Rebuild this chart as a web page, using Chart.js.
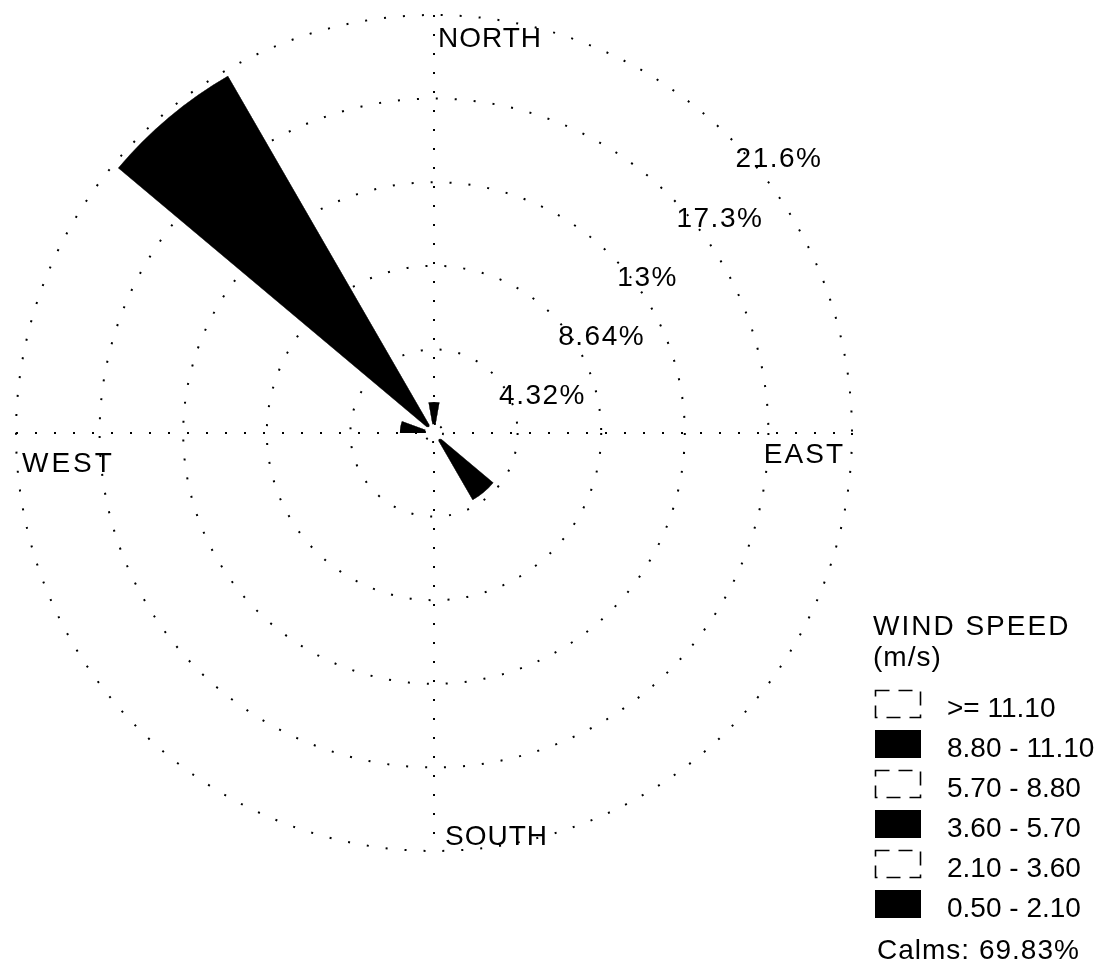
<!DOCTYPE html>
<html>
<head>
<meta charset="utf-8">
<title>Wind Rose</title>
<script src="https://cdn.jsdelivr.net/npm/chart.js@4.4.1/dist/chart.umd.min.js"></script>
<style>
  html, body { margin: 0; padding: 0; background: #ffffff; }
  canvas { display: block; }
</style>
</head>
<body>
<canvas id="rose" width="1098" height="963"></canvas>
<script>
// Wind direction sectors (degrees clockwise from north), 20° each
const directions = ['0', '20', '40', '60', '80', '100', '120', '140', '160',
                    '180', '200', '220', '240', '260', '280', '300', '320', '340'];

// Frequency (% of all hours) per direction for each wind-speed class
const freq_050_210 = [1.6, 0.2, 0, 0.15, 0, 0.3, 0.2, 4.0, 0.2, 0, 0, 0, 0, 0, 1.76, 0.2, 21.3, 0.17];
const freq_210_360 = [0, 0, 0, 0, 0, 0, 0, 0, 0, 0, 0, 0, 0, 0, 0, 0, 0, 0];
const freq_360_570 = [0, 0, 0, 0, 0, 0, 0, 0, 0, 0, 0, 0, 0, 0, 0, 0, 0, 0];
const freq_570_880 = [0, 0, 0, 0, 0, 0, 0, 0, 0, 0, 0, 0, 0, 0, 0, 0, 0, 0];
const freq_880_1110 = [0, 0, 0, 0, 0, 0, 0, 0, 0, 0, 0, 0, 0, 0, 0, 0, 0, 0];
const freq_1110_up = [0, 0, 0, 0, 0, 0, 0, 0, 0, 0, 0, 0, 0, 0, 0, 0, 0, 0];

// Speed classes, innermost first
const speedClasses = ['0.50 - 2.10', '2.10 - 3.60', '3.60 - 5.70', '5.70 - 8.80', '8.80 - 11.10', '>= 11.10'];
const speedFreqs = [freq_050_210, freq_210_360, freq_360_570, freq_570_880, freq_880_1110, freq_1110_up];

// Radial rings and their labels
const ringValues = [4.32, 8.64, 12.96, 17.28, 21.6];
const ringLabels = ['4.32%', '8.64%', '13%', '17.3%', '21.6%'];

const cardinalLabels = ['NORTH', 'EAST', 'SOUTH', 'WEST'];
const legendTitle = ['WIND SPEED', '(m/s)'];
const calmsPct = 69.83;

// Fill alternates black / white going outward
const classFill = ['#000000', '#ffffff', '#000000', '#ffffff', '#000000', '#ffffff'];

const FONT = '"Liberation Sans", Arial, Helvetica, sans-serif';
Chart.defaults.font.family = FONT;

// Stack the classes: each dataset holds the cumulative frequency up to its class
const datasets = speedFreqs.map((freqs, k) => {
  const cumulative = directions.map((_, i) =>
    speedFreqs.slice(0, k + 1).reduce((s, arr) => s + arr[i], 0));
  return {
    label: speedClasses[k],
    data: cumulative,
    backgroundColor: classFill[k],
    borderColor: '#000000',
    borderWidth: (c) => (classFill[k] === '#ffffff' && freqs[c.dataIndex] > 0) ? 1 : 0,
    borderDash: [2, 3]
  };
});

function spacedText(ctx, text, x, y, spacing) {
  ctx.letterSpacing = spacing + 'px';
  ctx.fillText(text, x, y);
  ctx.letterSpacing = '0px';
}

const roseDecor = {
  id: 'roseDecor',
  beforeDatasetsDraw(chart) {
    const r = chart.scales.r;
    const ctx = chart.ctx;
    const cx = r.xCenter, cy = r.yCenter, R = r.drawingArea;
    // dotted north-south / east-west axes
    ctx.save();
    ctx.strokeStyle = '#000000';
    ctx.lineWidth = 2;
    ctx.setLineDash([2, 17]);
    ctx.beginPath();
    ctx.moveTo(cx, cy - R); ctx.lineTo(cx, cy + R);
    ctx.moveTo(cx - R, cy); ctx.lineTo(cx + R, cy);
    ctx.stroke();
    ctx.restore();
  },
  afterDatasetsDraw(chart) {
    const r = chart.scales.r;
    const ctx = chart.ctx;
    const cx = r.xCenter, cy = r.yCenter, R = r.drawingArea;
    ctx.save();

    // calm circle at the centre
    ctx.fillStyle = '#ffffff';
    ctx.beginPath(); ctx.arc(cx, cy, 9, 0, Math.PI * 2); ctx.fill();
    ctx.strokeStyle = '#000000';
    ctx.lineWidth = 1.8;
    ctx.setLineDash([2, 5]);
    ctx.stroke();
    ctx.setLineDash([]);

    ctx.fillStyle = '#000000';
    ctx.font = '28px ' + FONT;
    ctx.textBaseline = 'alphabetic';

    // compass labels
    ctx.textAlign = 'left';
    spacedText(ctx, cardinalLabels[0], cx + 4, cy - R + 32, 1);
    spacedText(ctx, cardinalLabels[2], cx + 11, cy + R - 6, 1);
    spacedText(ctx, cardinalLabels[3], cx - R + 6, cy + 39, 3);
    ctx.textAlign = 'right';
    spacedText(ctx, cardinalLabels[1], cx + R - 7, cy + 30, 2);

    // ring labels along the north-east diagonal
    ctx.textAlign = 'left';
    const s45 = Math.SQRT1_2;
    ringValues.forEach((v, i) => {
      const d = r.getDistanceFromCenterForValue(v);
      spacedText(ctx, ringLabels[i], cx + d * s45 + 6, cy - d * s45 + 30, 1.5);
    });

    // legend
    const lx = 873;
    spacedText(ctx, legendTitle[0], lx, 635, 2);
    spacedText(ctx, legendTitle[1], lx, 666, 1);
    const order = speedClasses.map((_, k) => k).reverse();
    order.forEach((k, row) => {
      const top = 690 + row * 40;
      if (classFill[k] === '#000000') {
        ctx.fillStyle = '#000000';
        ctx.fillRect(lx + 2, top, 46, 28);
      } else {
        ctx.strokeStyle = '#000000';
        ctx.lineWidth = 1.6;
        ctx.setLineDash([14, 9]);
        ctx.strokeRect(lx + 2.5, top + 0.5, 45, 27);
        ctx.setLineDash([]);
      }
      ctx.fillStyle = '#000000';
      spacedText(ctx, speedClasses[k], lx + 74, top + 27, 0);
    });
    spacedText(ctx, 'Calms: ' + calmsPct.toFixed(2) + '%', lx + 4, 959, 1);

    ctx.restore();
  }
};

new Chart(document.getElementById('rose'), {
  type: 'polarArea',
  data: { labels: directions, datasets: datasets },
  options: {
    responsive: false,
    animation: false,
    layout: { padding: { left: 16, top: 15, right: 246, bottom: 112 } },
    plugins: { legend: { display: false }, tooltip: { enabled: false }, title: { display: false } },
    scales: {
      r: {
        min: 0,
        max: ringValues[ringValues.length - 1],
        startAngle: -10,
        afterBuildTicks: (scale) => {
          scale.ticks = [0].concat(ringValues).map(v => ({ value: v }));
        },
        ticks: { display: false },
        pointLabels: { display: false },
        angleLines: { display: false },
        grid: { display: true, circular: true, color: '#000000', lineWidth: 2 },
        border: { dash: [2, 17] }
      }
    }
  },
  plugins: [roseDecor]
});
</script>
</body>
</html>
